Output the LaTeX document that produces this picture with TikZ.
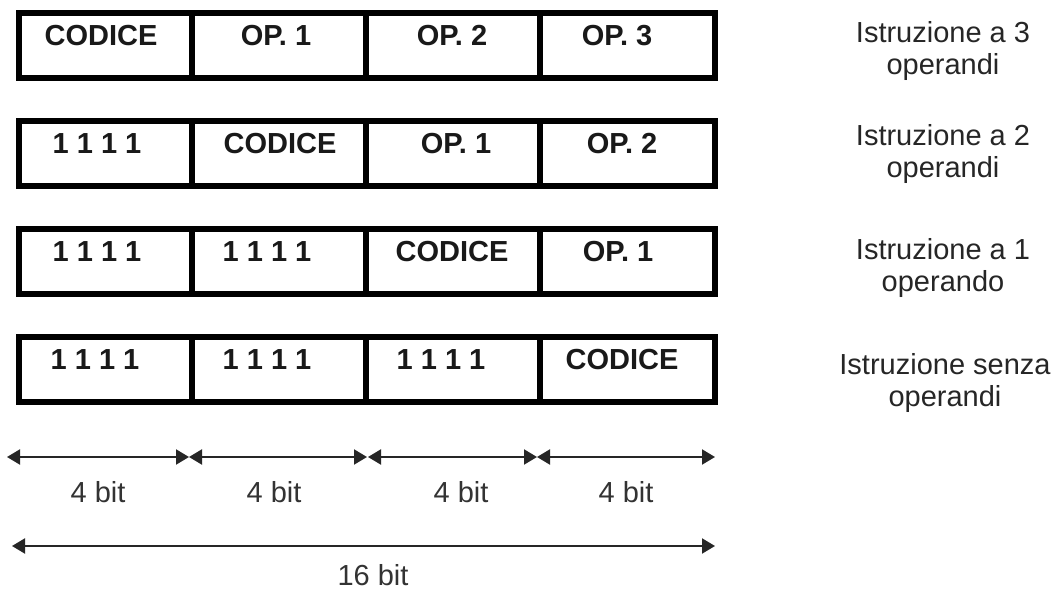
\documentclass[tikz,border=0pt]{standalone}
\usepackage{fontspec}
\setmainfont{Liberation Sans}
\usetikzlibrary{arrows.meta}
\begin{document}
\begin{tikzpicture}[x=1pt,y=-1pt,
  cell/.style={draw=black, line width=6pt, minimum height=65pt, inner sep=0pt, outer sep=0pt},
  celltext/.style={font=\fontsize{29}{33}\selectfont\bfseries, anchor=base, inner sep=0pt, text=black!90},
  rowlabel/.style={font=\fontsize{29}{32}\selectfont, align=center, anchor=base, inner sep=0pt, text=black!85},
  dimline/.style={line width=2pt, draw=black!85, {Triangle[length=13pt,width=15pt]}-{Triangle[length=13pt,width=15pt]}},
  dimtext/.style={font=\fontsize{29}{33}\selectfont, anchor=base, inner sep=0pt, text=black!80}
]
\useasboundingbox[fill=white] (0,0) rectangle (1059,589);

% cells
\foreach \r/\ty in {1/13,2/121,3/229,4/337}{
  \foreach \c/\xa/\xb in {1/19/192,2/192/366,3/366/540,4/540/715}{
    \node[cell, minimum width={(\xb-\xa)*1pt}] (c\r\c) at ({(\xa+\xb)/2},{\ty+32.5}) {};
  }
}

% cell texts
\node[celltext] (t11) at (101,45) {CODICE};
\node[celltext] (t12) at (276,45) {OP. 1};
\node[celltext] (t13) at (452,45) {OP. 2};
\node[celltext] (t14) at (617,45) {OP. 3};

\node[celltext] (t21) at (97,153) {1 1 1 1};
\node[celltext] (t22) at (280,153) {CODICE};
\node[celltext] (t23) at (456,153) {OP. 1};
\node[celltext] (t24) at (622,153) {OP. 2};

\node[celltext] (t31) at (97,261) {1 1 1 1};
\node[celltext] (t32) at (267,261) {1 1 1 1};
\node[celltext] (t33) at (452,261) {CODICE};
\node[celltext] (t34) at (618,261) {OP. 1};

\node[celltext] (t41) at (95,369) {1 1 1 1};
\node[celltext] (t42) at (267,369) {1 1 1 1};
\node[celltext] (t43) at (441,369) {1 1 1 1};
\node[celltext] (t44) at (622,369) {CODICE};

% row labels (anchor = baseline of the last line)
\node[rowlabel] (l1) at (943,74) {Istruzione a 3\\operandi};
\node[rowlabel] (l2) at (943,177) {Istruzione a 2\\operandi};
\node[rowlabel] (l3) at (943,291) {Istruzione a 1\\operando};
\node[rowlabel] (l4) at (945,406) {Istruzione senza\\operandi};

% dimension arrows
\coordinate (a0) at (7,457);
\coordinate (a1) at (189,457);
\coordinate (a2) at (367,457);
\coordinate (a2b) at (368,457);
\coordinate (a3) at (537,457);
\coordinate (a4) at (715,457);
\draw[dimline] (a0) -- (a1);
\draw[dimline] (a1) -- (a2);
\draw[dimline] (a2b) -- (a3);
\draw[dimline] (a3) -- (a4);

\node[dimtext] (b1) at (98,502) {4 bit};
\node[dimtext] (b2) at (274,502) {4 bit};
\node[dimtext] (b3) at (461,502) {4 bit};
\node[dimtext] (b4) at (626,502) {4 bit};

\coordinate (s0) at (12,546);
\coordinate (s1) at (715,546);
\draw[dimline] (s0) -- (s1);
\node[dimtext] (b16) at (373,585) {16 bit};
\end{tikzpicture}
\end{document}
